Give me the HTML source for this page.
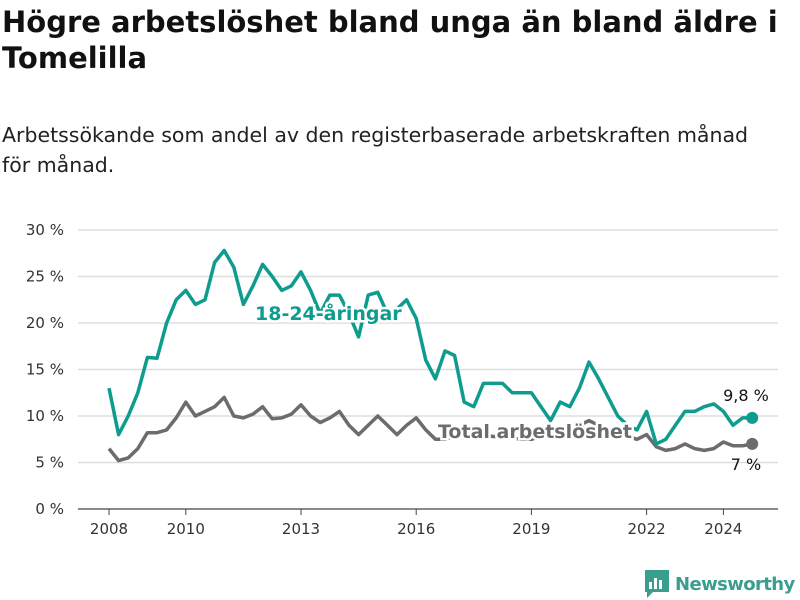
<!DOCTYPE html>
<html><head><meta charset="utf-8"><style>
body{margin:0;width:800px;height:600px;background:#fff;font-family:"Liberation Sans","DejaVu Sans",sans-serif;overflow:hidden}
h1{position:absolute;left:2px;top:4px;margin:0;font-size:29px;line-height:36px;font-weight:bold;color:#111;font-family:"DejaVu Sans","Liberation Sans",sans-serif;letter-spacing:0}
p{position:absolute;left:2px;top:120px;margin:0;font-size:20.5px;line-height:30px;color:#222;font-family:"DejaVu Sans","Liberation Sans",sans-serif;letter-spacing:0;white-space:nowrap}
svg{position:absolute;left:0;top:0}
</style></head><body>
<h1>Högre arbetslöshet bland unga än bland äldre i Tomelilla</h1>
<p>Arbetssökande som andel av den registerbaserade arbetskraften månad<br>för månad.</p>
<svg id="c" width="800" height="600"></svg>
<script>
const yTicks=[0,5,10,15,20,25,30];
const xTickYears=[2008,2010,2013,2016,2019,2022,2024];
const times=[];for(let i=0;i<=67;i++)times.push(2008+i*0.25);
const young=[13,8,10,12.5,16.3,16.2,20,22.5,23.5,22,22.5,26.5,27.8,26,22,24,26.3,25,23.5,24,25.5,23.5,21,23,23,21,18.5,23,23.3,21,21.5,22.5,20.5,16,14,17,16.5,11.5,11,13.5,13.5,13.5,12.5,12.5,12.5,11,9.5,11.5,11,13,15.8,14,12,10,9,8.5,10.5,7,7.5,9,10.5,10.5,11,11.3,10.5,9,9.8,9.8];
const total=[6.5,5.2,5.5,6.5,8.2,8.2,8.5,9.8,11.5,10,10.5,11,12,10,9.8,10.2,11,9.7,9.8,10.2,11.2,10,9.3,9.8,10.5,9,8,9,10,9,8,9,9.8,8.5,7.5,7.5,7.8,8,8,8,7.8,7.8,7.6,7.5,7.5,7.8,8.2,8.5,8.5,9,9.5,9,8.5,8,7.8,7.5,8,6.7,6.3,6.5,7,6.5,6.3,6.5,7.2,6.8,6.8,7];
const NS="http://www.w3.org/2000/svg";const svg=document.getElementById('c');
const X=t=>109+38.4*(t-2008), Y=v=>509-9.3*v;
function mk(tag,a,txt){const e=document.createElementNS(NS,tag);for(const k in a)e.setAttribute(k,a[k]);if(txt!=null)e.textContent=txt;svg.appendChild(e);return e;}
yTicks.forEach(v=>{const g=mk('line',{x1:78,x2:778,y1:Y(v),y2:Y(v),stroke:v?'#ddd':'#444','stroke-width':v?1.5:1.2});


const t=mk('text',{x:64,y:Y(v)+5,'text-anchor':'end','font-size':15,fill:'#333','font-family':'DejaVu Sans,sans-serif'},v+' %');

});
xTickYears.forEach(yr=>{const l=mk('line',{x1:X(yr),x2:X(yr),y1:509,y2:515,stroke:'#444'});


const t=mk('text',{x:X(yr),y:534,'text-anchor':'middle','font-size':15,fill:'#333','font-family':'DejaVu Sans,sans-serif'},yr);

});
function line(arr,col,name){const d=arr.map((v,i)=>(i?'L':'M')+X(times[i]).toFixed(1)+','+Y(v).toFixed(1)).join('');
const p=mk('path',{d:d,fill:'none',stroke:col,'stroke-width':3.5,'stroke-linejoin':'round'});


const n=arr.length-1;const c=mk('circle',{cx:X(times[n]),cy:Y(arr[n]),r:6,fill:col});

}
line(total,'#6c6b70','total-line');
line(young,'#0e9c8e','young-line');
function lab(x,y,txt,col,name,bold,anchor){const t=mk('text',{x:x,y:y,'font-size':bold?19:16,'font-weight':bold?'bold':'normal',fill:col,stroke:bold?'#fff':'none','stroke-width':5,'paint-order':'stroke','text-anchor':anchor||'start','font-family':'DejaVu Sans,sans-serif'},txt);

}
lab(255,320,'18-24-åringar','#0e9c8e','young-series-label',true);
lab(438,438,'Total arbetslöshet','#6c6b70','total-series-label',true);
lab(746,401,'9,8 %','#111','young-end-value',false,'middle');
lab(746,470,'7 %','#111','total-end-value',false,'middle');
</script>
<div style="position:absolute;left:645px;top:570px;display:flex;align-items:center;gap:6px">
<svg width="24" height="28" viewBox="0 0 24 28" style="position:static"><path d="M0 0H24V22H8L2 28V22H0Z" fill="#3a9e8f"/><rect x="4" y="12" width="3" height="7" fill="#fff"/><rect x="9" y="8" width="3" height="11" fill="#fff"/><rect x="14" y="10" width="3" height="9" fill="#fff"/></svg>
<span style="font-size:18px;font-weight:bold;color:#3a9e8f;font-family:'DejaVu Sans',sans-serif;letter-spacing:-0.6px">Newsworthy</span></div>
</body></html>
